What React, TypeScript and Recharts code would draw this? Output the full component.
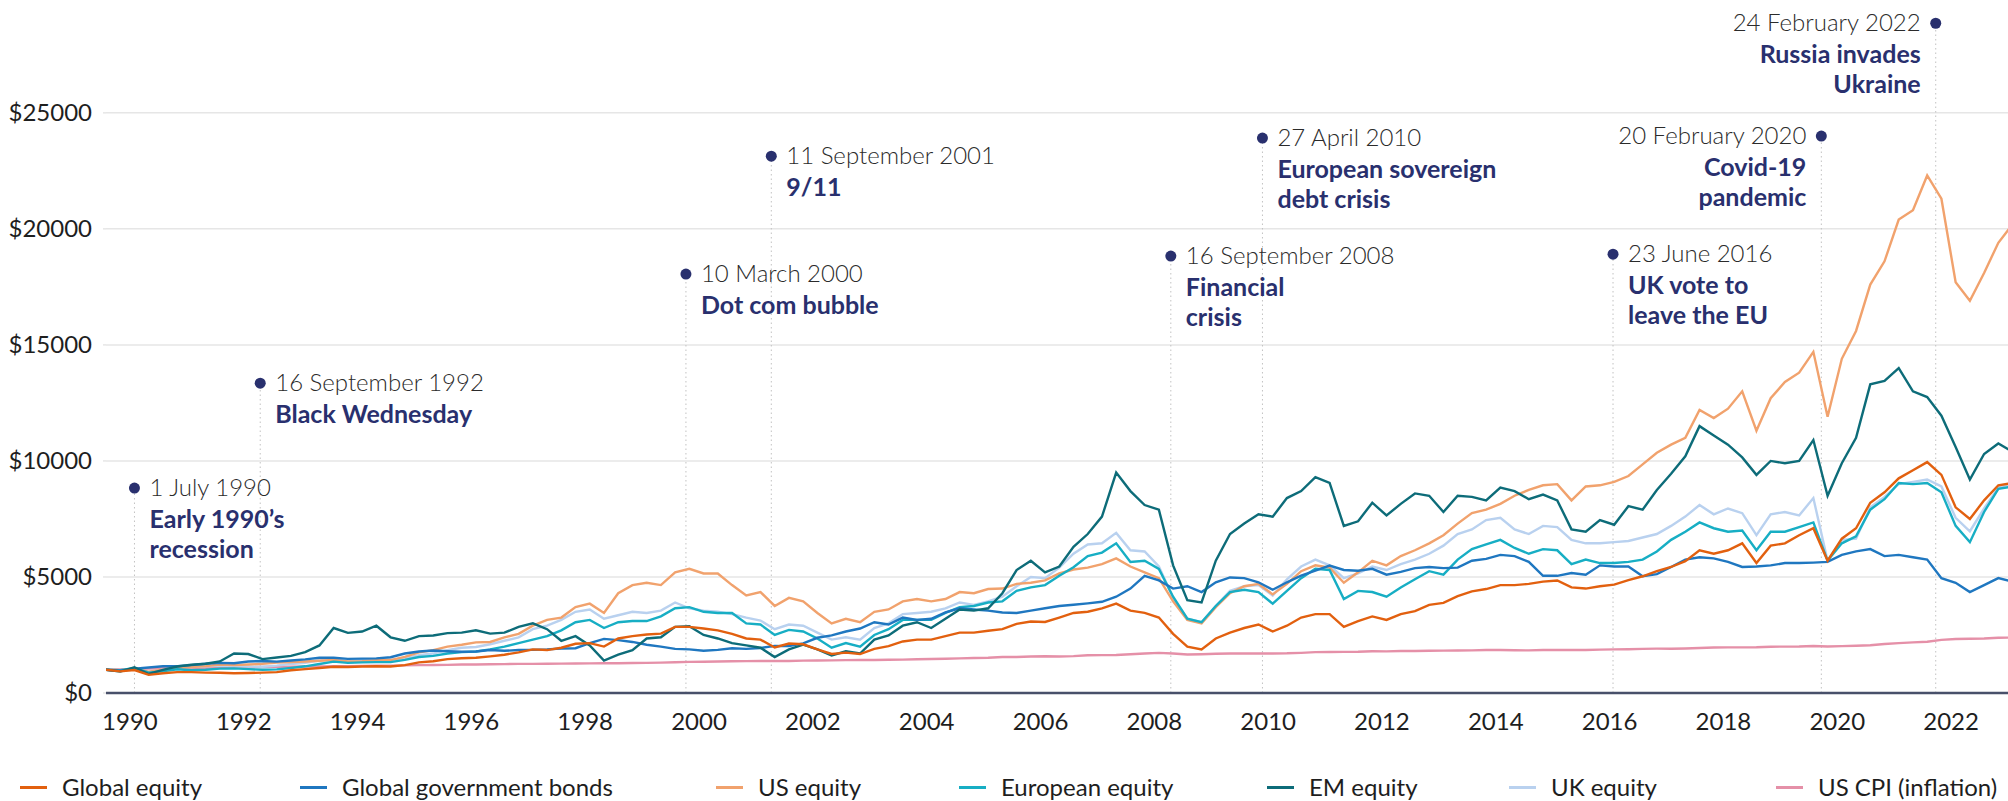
import React from 'react';
import { LineChart, Line, XAxis, YAxis, CartesianGrid, ReferenceLine, ReferenceDot } from 'recharts';

// quarterly values from Q1 1990 (one row per year: Jan, Apr, Jul, Oct)
const START_YEAR = 1990;

const GLOBAL_EQUITY = [
  1000, 930, 990, 780, 850, 900, 900, 880, 870, 850, 860, 880, 900, 980, 1030, 1080,
  1130, 1120, 1140, 1150, 1140, 1200, 1320, 1370, 1460, 1500, 1520, 1580, 1650, 1750, 1880, 1850,
  1950, 2120, 2150, 2000, 2350, 2450, 2520, 2560, 2850, 2850, 2780, 2700, 2550, 2350, 2300, 1960,
  2130, 2100, 1880, 1680, 1740, 1680, 1900, 2020, 2220, 2300, 2300, 2450, 2600, 2600, 2680, 2750,
  2980, 3080, 3060, 3250, 3450, 3500, 3650, 3850, 3550, 3450, 3250, 2550, 2000, 1880, 2350, 2600,
  2800, 2950, 2650, 2900, 3250, 3400, 3400, 2850, 3100, 3300, 3150, 3400, 3530, 3800, 3880, 4170,
  4380, 4480, 4650, 4650, 4700, 4800, 4850, 4550, 4500, 4600, 4670, 4860, 5030, 5250, 5430, 5680,
  6150, 6000, 6150, 6450, 5600, 6350, 6450, 6800, 7100, 5700, 6650, 7100, 8200, 8650, 9250, 9600,
  9950, 9400, 8000, 7500, 8300, 8950, 9050,
];

const GOV_BONDS = [
  1000, 960, 1050, 1100, 1150, 1150, 1200, 1260, 1300, 1280, 1360, 1380, 1350, 1400, 1450, 1520,
  1520, 1470, 1480, 1490, 1540, 1700, 1790, 1830, 1800, 1780, 1790, 1850, 1820, 1850, 1860, 1880,
  1920, 1930, 2150, 2330, 2280, 2200, 2080, 2000, 1900, 1880, 1820, 1860, 1930, 1900, 1940, 2030,
  2020, 2140, 2380, 2480, 2650, 2780, 3050, 2950, 3250, 3150, 3200, 3470, 3650, 3600, 3550, 3470,
  3450, 3550, 3650, 3750, 3800, 3860, 3930, 4150, 4500, 5050, 4850, 4500, 4600, 4350, 4770, 4980,
  4950, 4770, 4450, 4770, 5060, 5270, 5490, 5300, 5270, 5350, 5100, 5220, 5380, 5430, 5380, 5400,
  5700, 5780, 5950, 5900, 5650, 5050, 5050, 5170, 5100, 5500, 5450, 5450, 5030, 5120, 5430, 5750,
  5850, 5800, 5650, 5430, 5450, 5500, 5600, 5600, 5620, 5650, 5950, 6100, 6200, 5900, 5950, 5850,
  5750, 4950, 4750, 4350, 4650, 4950, 4800,
];

const US_EQUITY = [
  1000, 980, 1030, 920, 1000, 1100, 1120, 1160, 1230, 1200, 1230, 1260, 1310, 1330, 1360, 1390,
  1420, 1360, 1370, 1410, 1420, 1560, 1750, 1850, 2000, 2080, 2180, 2200, 2400, 2550, 2900, 3150,
  3250, 3700, 3850, 3450, 4300, 4650, 4750, 4650, 5200, 5350, 5150, 5150, 4650, 4200, 4350, 3750,
  4100, 3950, 3450, 3000, 3200, 3050, 3500, 3600, 3950, 4050, 3950, 4050, 4350, 4300, 4480, 4500,
  4700, 4750, 4850, 5150, 5320, 5400, 5550, 5800, 5450, 5200, 4950, 3950, 3150, 3000, 3700, 4300,
  4600, 4700, 4250, 4700, 5250, 5500, 5400, 4750, 5200, 5700, 5500, 5900, 6150, 6450, 6800, 7300,
  7750, 7900, 8150, 8500, 8750, 8950, 9000, 8300, 8900, 8950, 9100, 9350, 9850, 10350, 10700, 11000,
  12200, 11850, 12250, 13000, 11300, 12700, 13400, 13800, 14700, 11900, 14400, 15600, 17600, 18600, 20400, 20800,
  22300, 21300, 17700, 16900, 18100, 19400, 20200,
];

const EUROPE_EQUITY = [
  1000, 980, 1080, 880, 940, 1020, 980, 1000, 1050, 1060, 1030, 1000, 1020, 1080, 1150, 1250,
  1350, 1300, 1320, 1330, 1330, 1430, 1550, 1600, 1700, 1760, 1790, 1880, 2000, 2150, 2300, 2450,
  2700, 3050, 3150, 2800, 3050, 3100, 3100, 3300, 3650, 3700, 3500, 3450, 3450, 3000, 2950, 2500,
  2720, 2650, 2350, 1950, 2150, 2000, 2500, 2750, 3150, 3150, 3150, 3450, 3700, 3750, 3900, 3950,
  4400, 4550, 4650, 5050, 5420, 5900, 6050, 6450, 5650, 5700, 5350, 4150, 3200, 3050, 3750, 4350,
  4450, 4350, 3850, 4400, 4950, 5350, 5300, 4050, 4400, 4350, 4150, 4550, 4900, 5250, 5100, 5750,
  6200, 6400, 6600, 6250, 6000, 6200, 6150, 5550, 5750, 5600, 5600, 5650, 5750, 6100, 6600, 6950,
  7350, 7100, 6950, 7000, 6150, 6950, 6950, 7150, 7350, 5700, 6450, 6750, 7900, 8350, 9050, 9000,
  9050, 8650, 7200, 6500, 7800, 8800, 8900,
];

const EM_EQUITY = [
  1000, 925, 1110, 820, 1000, 1140, 1220, 1260, 1360, 1700, 1680, 1460, 1530, 1600, 1760, 2050,
  2800, 2590, 2650, 2900, 2400, 2250, 2450, 2480, 2580, 2600, 2700, 2560, 2600, 2850, 3000, 2750,
  2250, 2450, 2050, 1400, 1650, 1850, 2350, 2400, 2850, 2880, 2500, 2350, 2150, 2050, 1950, 1550,
  1880, 2080, 1880, 1620, 1800, 1700, 2300, 2480, 2900, 3050, 2800, 3200, 3600, 3550, 3650, 4300,
  5300, 5700, 5200, 5450, 6300, 6850, 7600, 9500, 8700, 8100, 7900, 5500, 4000, 3900, 5700, 6850,
  7300, 7700, 7600, 8400, 8700, 9300, 9050, 7200, 7400, 8200, 7650, 8150, 8600, 8500, 7800, 8500,
  8450, 8300, 8850, 8700, 8350, 8550, 8300, 7050, 6950, 7450, 7250, 8050, 7900, 8750, 9450, 10200,
  11500, 11100, 10700, 10150, 9400, 10000, 9900, 10000, 10900, 8500, 9900, 11000, 13300, 13450, 14000, 13000,
  12750, 11950, 10600, 9200, 10300, 10750, 10400,
];

const UK_EQUITY = [
  1000, 960, 1050, 900, 1000, 1130, 1120, 1150, 1180, 1150, 1140, 1130, 1180, 1250, 1300, 1400,
  1470, 1360, 1410, 1420, 1420, 1500, 1630, 1700, 1850, 1950, 1980, 2100, 2250, 2400, 2750, 2900,
  3150, 3500, 3600, 3200, 3350, 3500, 3450, 3550, 3900, 3650, 3550, 3500, 3400, 3250, 3120, 2750,
  2950, 2900, 2600, 2300, 2400, 2300, 2800, 3000, 3400, 3450, 3500, 3650, 3900, 3800, 3950, 4150,
  4600, 5000, 4950, 5400, 6000, 6400, 6450, 6900, 6150, 6100, 5450, 4100, 3200, 3050, 3750, 4400,
  4600, 4650, 4200, 4900, 5450, 5750, 5500, 4950, 5150, 5450, 5300, 5550, 5750, 6000, 6350, 6850,
  7050, 7450, 7550, 7050, 6850, 7200, 7150, 6600, 6450, 6450, 6500, 6550, 6700, 6850, 7200, 7600,
  8100, 7700, 7950, 7750, 6800, 7700, 7800, 7650, 8400, 5700, 6600, 6650, 8000, 8450, 9000, 9100,
  9200, 8900, 7550, 6970, 7950, 8850, 9050,
];

const US_CPI = [
  1000, 1020, 1030, 1050, 1065, 1070, 1075, 1085, 1095, 1105, 1110, 1120, 1125, 1135, 1140, 1145,
  1155, 1160, 1170, 1175, 1180, 1190, 1200, 1205, 1210, 1225, 1230, 1240, 1245, 1255, 1255, 1260,
  1265, 1270, 1275, 1280, 1285, 1295, 1300, 1310, 1325, 1340, 1345, 1355, 1365, 1375, 1380, 1380,
  1380, 1395, 1400, 1405, 1415, 1425, 1425, 1430, 1440, 1455, 1465, 1475, 1490, 1510, 1520, 1550,
  1550, 1575, 1585, 1575, 1590, 1625, 1630, 1640, 1670, 1700, 1730, 1700, 1660, 1670, 1690, 1700,
  1700, 1705, 1705, 1710, 1730, 1760, 1765, 1770, 1775, 1800, 1795, 1810, 1810, 1820, 1825, 1830,
  1835, 1850, 1855, 1845, 1835, 1850, 1860, 1855, 1855, 1870, 1880, 1885, 1900, 1910, 1910, 1920,
  1940, 1960, 1965, 1965, 1970, 1995, 2000, 2005, 2025, 2005, 2020, 2035, 2055, 2110, 2150, 2180,
  2210, 2290, 2330, 2340, 2350, 2380, 2390,
];

const X_TICK_YEARS = [1990, 1992, 1994, 1996, 1998, 2000, 2002, 2004, 2006, 2008, 2010, 2012, 2014, 2016, 2018, 2020, 2022];
const Y_TICKS = [0, 5000, 10000, 15000, 20000, 25000];

// [date, title lines, time, height, text side]
const EVENTS: [string, string[], number, number, 'left' | 'right'][] = [
  ['1 July 1990', ['Early 1990\u2019s', 'recession'], 1990.5, 8830, 'left'],
  ['16 September 1992', ['Black Wednesday'], 1992.71, 13350, 'left'],
  ['10 March 2000', ['Dot com bubble'], 2000.19, 18050, 'left'],
  ['11 September 2001', ['9/11'], 2001.69, 23130, 'left'],
  ['16 September 2008', ['Financial', 'crisis'], 2008.71, 18830, 'left'],
  ['27 April 2010', ['European sovereign', 'debt crisis'], 2010.32, 23910, 'left'],
  ['23 June 2016', ['UK vote to', 'leave the EU'], 2016.48, 18910, 'left'],
  ['20 February 2020', ['Covid-19', 'pandemic'], 2020.14, 24000, 'right'],
  ['24 February 2022', ['Russia invades', 'Ukraine'], 2022.15, 28860, 'right'],
];

const SERIES = [
  { key: 'cpi', name: 'US CPI (inflation)', color: '#e590a8', values: US_CPI },
  { key: 'uk', name: 'UK equity', color: '#b9d1ef', values: UK_EQUITY },
  { key: 'us', name: 'US equity', color: '#f1a26d', values: US_EQUITY },
  { key: 'europe', name: 'European equity', color: '#17aec4', values: EUROPE_EQUITY },
  { key: 'bonds', name: 'Global government bonds', color: '#1f77c0', values: GOV_BONDS },
  { key: 'em', name: 'EM equity', color: '#0d6c79', values: EM_EQUITY },
  { key: 'global', name: 'Global equity', color: '#e2600f', values: GLOBAL_EQUITY },
];

const LEGEND_ORDER = ['global', 'bonds', 'us', 'europe', 'em', 'uk', 'cpi'];
const LEGEND_LEFT = [20, 300, 716, 959, 1267, 1509, 1776];

const NAVY = '#29306e';
const FONT = 'Lato, "Noto Sans", sans-serif';

const data = GLOBAL_EQUITY.map((_, i) => {
  const row: Record<string, number> = { t: START_YEAR + i / 4 };
  SERIES.forEach((s) => {
    row[s.key] = s.values[i];
  });
  return row;
});

function EventMarker(props: any) {
  const { cx, cy, ev } = props;
  const [date, title, , , side] = ev;
  const right = side === 'right';
  const tx = right ? cx - 15 : cx + 15;
  const anchor = right ? 'end' : 'start';
  return (
    <g>
      <circle cx={cx} cy={cy} r={5.5} fill={NAVY} />
      <text x={tx} y={cy} dy={8} textAnchor={anchor} fontSize={24} fontWeight={300} fill="#2b2b2b">
        {date}
      </text>
      {title.map((line: string, i: number) => (
        <text key={i} x={tx} y={cy + 32 + i * 30} dy={8} textAnchor={anchor} fontSize={25} fontWeight={700} fill={NAVY}>
          {line}
        </text>
      ))}
    </g>
  );
}

function XTick(props: any) {
  const { x, y, payload } = props;
  return (
    <text x={x} y={y} dy={29} textAnchor="middle" fontSize={24} fill="#1e1e1e">
      {Math.floor(payload.value)}
    </text>
  );
}

function YTick(props: any) {
  const { x, y, payload } = props;
  return (
    <text x={x} y={y} dy={8} textAnchor="end" fontSize={24} fill="#1e1e1e">
      {'$' + payload.value}
    </text>
  );
}

export default function App() {
  return (
    <div style={{ position: 'absolute', left: 0, top: 0, width: 2008, height: 801, background: '#fff', fontFamily: FONT, overflow: 'hidden' }}>
      <LineChart width={2008} height={801} data={data} margin={{ top: 20, right: 0, bottom: 68, left: 0 }}>
        <CartesianGrid vertical={false} horizontalValues={Y_TICKS} stroke="#e6e6e6" strokeWidth={1.5} />
        <XAxis
          dataKey="t"
          type="number"
          domain={[1990, 2023.42]}
          allowDataOverflow
          ticks={X_TICK_YEARS.map((y) => y + 0.42)}
          tick={<XTick />}
          tickLine={false}
          axisLine={{ stroke: '#48506a', strokeWidth: 2.5 }}
          height={40}
          interval={0}
        />
        <YAxis
          type="number"
          domain={[0, 29000]}
          ticks={Y_TICKS}
          tick={<YTick />}
          tickSize={3}
          tickMargin={11}
          tickLine={{ stroke: '#e6e6e6', strokeWidth: 1.5 }}
          axisLine={false}
          width={106}
          interval={0}
        />
        {EVENTS.map((ev, i) => (
          <ReferenceLine
            key={'l' + i}
            segment={[{ x: ev[2], y: 0 }, { x: ev[2], y: ev[3] }]}
            stroke="#c2c2c2"
            strokeWidth={1}
            strokeDasharray="1.5 3"
          />
        ))}
        {SERIES.map((s) => (
          <Line
            key={s.key}
            dataKey={s.key}
            name={s.name}
            type="linear"
            stroke={s.color}
            strokeWidth={2.4}
            dot={false}
            activeDot={false}
            isAnimationActive={false}
          />
        ))}
        {EVENTS.map((ev, i) => (
          <ReferenceDot
            key={'d' + i}
            x={ev[2]}
            y={ev[3]}
            r={5.5}
            ifOverflow="visible"
            shape={(p: any) => <EventMarker {...p} ev={ev} />}
          />
        ))}
      </LineChart>
      {LEGEND_ORDER.map((k, i) => {
        const s = SERIES.find((x) => x.key === k)!;
        return (
          <div key={k} style={{ position: 'absolute', left: LEGEND_LEFT[i], top: 770, height: 34, display: 'flex', alignItems: 'center', whiteSpace: 'nowrap' }}>
            <span style={{ display: 'inline-block', width: 27, height: 3, background: s.color, marginRight: 15 }} />
            <span style={{ fontSize: 24, color: '#1e1e1e', lineHeight: '34px' }}>{s.name}</span>
          </div>
        );
      })}
    </div>
  );
}
